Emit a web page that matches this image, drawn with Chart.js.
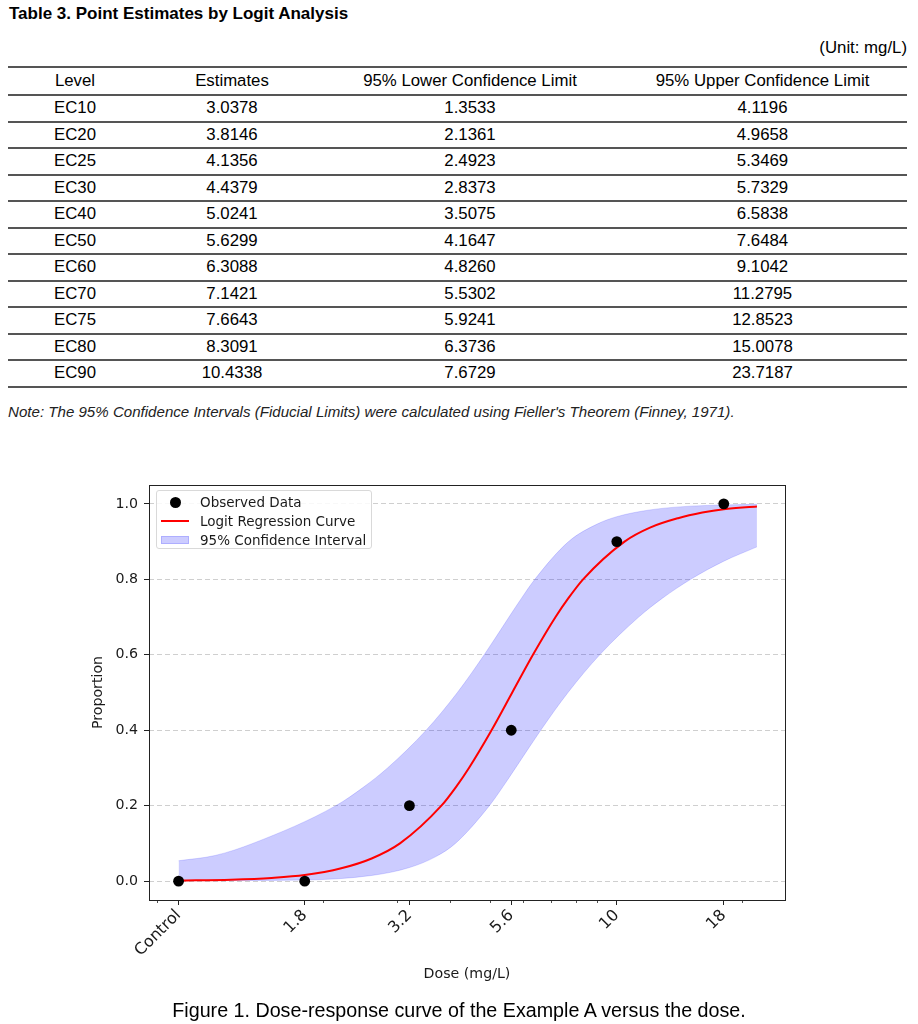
<!DOCTYPE html>
<html>
<head>
<meta charset="utf-8">
<script src="https://cdn.jsdelivr.net/npm/chart.js@4.4.1/dist/chart.umd.min.js"></script>
<style>
    body { margin: 0; width: 918px; height: 1024px; position: relative; overflow: hidden; background: #fff;
           font-family: "Liberation Sans", Arial, sans-serif; color: #000; }
    #title { position: absolute; left: 9px; top: 4px; font-weight: bold; font-size: 17px; line-height: 19px; }
    #unit { position: absolute; right: 11px; top: 39px; font-size: 16.8px; line-height: 18px; }
    table { position: absolute; left: 8px; top: 66px; width: 899px; border-collapse: collapse; table-layout: fixed; font-size: 16.8px; }
    th, td { font-weight: normal; text-align: center; padding: 0; border-bottom: 2px solid #555; }
    thead th { border-top: 2px solid #555; }
    thead tr { height: 28px; }
    tbody tr { height: 26.5px; }
    #note { position: absolute; left: 8px; top: 403px; font-style: italic; font-size: 15.1px; line-height: 18px; color: #222; }
    #wrap { position: absolute; left: 0; top: 460px; width: 918px; height: 540px; }
    #legend { position: absolute; left: 156px; top: 490px; width: 216px; height: 59px; box-sizing: border-box;
              border: 1px solid #d9d9d9; border-radius: 3px; background: rgba(255, 255, 255, 0.85);
              font-family: "DejaVu Sans"; font-size: 13.5px; color: #1a1a1a; }
    .row { position: absolute; left: 0; width: 100%; height: 19px; line-height: 19px; }
    .row .t { position: absolute; left: 43px; top: 0; white-space: nowrap; }
    .dot { position: absolute; left: 13px; top: 4px; width: 11px; height: 11px; border-radius: 50%; background: #000; }
    .red { position: absolute; left: 4px; top: 8.5px; width: 28px; height: 2px; background: #ff0000; }
    .patch { position: absolute; left: 4px; top: 5.5px; width: 28px; height: 8px; box-sizing: border-box;
             background: rgba(0, 0, 255, 0.2); border: 1px solid rgba(0, 0, 255, 0.15); }
    #caption { position: absolute; left: 0; top: 999px; width: 918px; text-align: center; font-size: 19.7px; line-height: 22px; }
</style>
</head>
<body>
<div id="title">Table 3. Point Estimates by Logit Analysis</div>
<div id="unit">(Unit: mg/L)</div>
<table>
    <colgroup><col style="width:134px"><col style="width:180px"><col style="width:296px"><col style="width:289px"></colgroup>
    <thead><tr><th>Level</th><th>Estimates</th><th>95% Lower Confidence Limit</th><th>95% Upper Confidence Limit</th></tr></thead>
    <tbody id="rows"></tbody>
</table>
<div id="note">Note: The 95% Confidence Intervals (Fiducial Limits) were calculated using Fieller's Theorem (Finney, 1971).</div>

<div id="wrap"><canvas id="chart" width="918" height="540"></canvas></div>

<div id="legend">
    <div class="row" style="top:1.5px"><span class="dot"></span><span class="t">Observed Data</span></div>
    <div class="row" style="top:20.5px"><span class="red"></span><span class="t">Logit Regression Curve</span></div>
    <div class="row" style="top:39.5px"><span class="patch"></span><span class="t">95% Confidence Interval</span></div>
</div>

<div id="caption">Figure 1. Dose-response curve of the Example A versus the dose.</div>

<script>
// table 3
const levels = ['EC10', 'EC20', 'EC25', 'EC30', 'EC40', 'EC50', 'EC60', 'EC70', 'EC75', 'EC80', 'EC90'];
const levelP = [0.10, 0.20, 0.25, 0.30, 0.40, 0.50, 0.60, 0.70, 0.75, 0.80, 0.90];
const estimates = [3.0378, 3.8146, 4.1356, 4.4379, 5.0241, 5.6299, 6.3088, 7.1421, 7.6643, 8.3091, 10.4338];
const lowerCL = [1.3533, 2.1361, 2.4923, 2.8373, 3.5075, 4.1647, 4.8260, 5.5302, 5.9241, 6.3736, 7.6729];
const upperCL = [4.1196, 4.9658, 5.3469, 5.7329, 6.5838, 7.6484, 9.1042, 11.2795, 12.8523, 15.0078, 23.7187];

// observed data (control plotted at 0.9 on the log axis)
const doseLabels = ['Control', '1.8', '3.2', '5.6', '10', '18'];
const doseX = [0.9, 1.8, 3.2, 5.6, 10, 18];
const observed = [0, 0, 0.2, 0.4, 0.9, 1.0];
const minorX = [0.8, 2, 3, 4, 5, 6, 7, 8, 9, 20];
const yTicks = [0, 0.2, 0.4, 0.6, 0.8, 1.0];

// curve tails, the middle comes from the EC table
const curveLowX = [0.9, 1.2, 1.5, 1.8, 2.2, 2.6];
const curveLowY = [0.0015, 0.004, 0.0085, 0.016, 0.034, 0.06];
const curveHighX = [12, 14, 16, 18, 21.6];
const curveHighY = [0.937, 0.962, 0.977, 0.986, 0.993];

// band: left edge = lower limits, right edge = upper limits, tails
const bandUpLowX = [0.9, 1.1];
const bandUpLowY = [0.054, 0.068];
const bandUpHighX = [9, 10, 12, 15, 18, 21.6];
const bandUpHighY = [0.947, 0.966, 0.984, 0.994, 0.997, 0.999];
const bandLoLowX = [0.9, 1.8, 2.6, 3.2, 3.7];
const bandLoLowY = [0.001, 0.003, 0.015, 0.036, 0.065];
const bandLoHighX = [18, 21.6];
const bandLoHighY = [0.848, 0.886];

const tbody = document.getElementById('rows');
levels.forEach((lvl, i) => {
    const tr = document.createElement('tr');
    [lvl, estimates[i].toFixed(4), lowerCL[i].toFixed(4), upperCL[i].toFixed(4)].forEach((txt) => {
        const td = document.createElement('td');
        td.textContent = txt;
        tr.appendChild(td);
    });
    tbody.appendChild(tr);
});

const pts = (xs, ys) => xs.map((x, i) => ({ x, y: ys[i] }));

const curveData = pts([...curveLowX, ...estimates, ...curveHighX], [...curveLowY, ...levelP, ...curveHighY]);
const bandUp = pts([...bandUpLowX, ...lowerCL, ...bandUpHighX], [...bandUpLowY, ...levelP, ...bandUpHighY]);
// EC90 upper limit (23.7) lies past the end of the plotted band
const bandLo = pts([...bandLoLowX, ...upperCL.slice(0, 10), ...bandLoHighX],
                   [...bandLoLowY, ...levelP.slice(0, 10), ...bandLoHighY]);

const tickFont = { family: 'DejaVu Sans', size: 14.2 };
const xTickFont = { family: 'DejaVu Sans', size: 16 };
const ink = '#1a1a1a';

const frame = {
    id: 'frame',
    afterDraw(chart) {
        const { ctx, chartArea: a } = chart;
        ctx.save();
        ctx.strokeStyle = '#222';
        ctx.lineWidth = 1;
        ctx.strokeRect(Math.round(a.left) + 0.5, Math.round(a.top) + 0.5,
                       Math.round(a.right - a.left), Math.round(a.bottom - a.top));
        ctx.restore();
    },
};

new Chart(document.getElementById('chart'), {
    type: 'line',
    data: {
        datasets: [
            {
                label: 'Observed Data',
                data: pts(doseX, observed),
                showLine: false,
                pointRadius: 5.4,
                pointHoverRadius: 5.4,
                pointBackgroundColor: '#000',
                pointBorderWidth: 0,
            },
            {
                label: 'Logit Regression Curve',
                data: curveData,
                borderColor: '#ff0000',
                borderWidth: 2,
                pointRadius: 0,
                cubicInterpolationMode: 'monotone',
                fill: false,
            },
            {
                label: '95% Confidence Interval',
                data: bandUp,
                borderColor: 'rgba(0, 0, 255, 0.15)',
                borderWidth: 1,
                pointRadius: 0,
                cubicInterpolationMode: 'monotone',
                fill: false,
            },
            {
                label: 'band lower edge',
                data: bandLo,
                borderColor: 'rgba(0, 0, 255, 0.15)',
                backgroundColor: 'rgba(0, 0, 255, 0.2)',
                borderWidth: 1,
                pointRadius: 0,
                cubicInterpolationMode: 'monotone',
                fill: '-1',
            },
        ],
    },
    options: {
        responsive: false,
        animation: false,
        layout: { padding: { left: 79, right: 133, top: 25, bottom: 8 } },
        plugins: { legend: { display: false }, tooltip: { enabled: false } },
        scales: {
            x: {
                type: 'logarithmic',
                min: 0.765,
                max: 25.2,
                afterBuildTicks: (s) => {
                    s.ticks = [...doseX.map((v) => ({ value: v })), ...minorX.map((v) => ({ value: v, minor: true }))]
                        .sort((a, b) => a.value - b.value);
                },
                afterFit: (s) => { s.height = 92; },
                ticks: {
                    autoSkip: false,
                    minRotation: 45,
                    maxRotation: 45,
                    padding: 1,
                    color: ink,
                    font: xTickFont,
                    callback: (v) => {
                        const i = doseX.indexOf(v);
                        return i < 0 ? '' : doseLabels[i];
                    },
                },
                grid: {
                    drawOnChartArea: false,
                    drawTicks: true,
                    tickLength: 5,
                    tickColor: '#222',
                    tickWidth: (c) => (c.tick && c.tick.minor ? 0.8 : 1),
                    tickBorderDash: (c) => (c.tick && c.tick.minor ? [3, 10] : []),
                },
                border: { display: false },
                title: { display: true, text: 'Dose (mg/L)', color: ink, font: tickFont, padding: { top: 4, bottom: 9 } },
            },
            y: {
                min: -0.05,
                max: 1.05,
                afterBuildTicks: (s) => { s.ticks = yTicks.map((v) => ({ value: v })); },
                afterFit: (s) => { s.width = 70; },
                ticks: { padding: 6, color: ink, font: tickFont, callback: (v) => v.toFixed(1) },
                grid: { color: '#cfcfcf', lineWidth: 1, tickLength: 5, tickColor: '#222', tickWidth: 1 },
                border: { display: false, dash: [5, 3] },
                title: { display: true, text: 'Proportion', color: ink, font: tickFont, padding: { top: 11, bottom: 4 } },
            },
        },
    },
    plugins: [frame],
});
</script>
</body>
</html>
